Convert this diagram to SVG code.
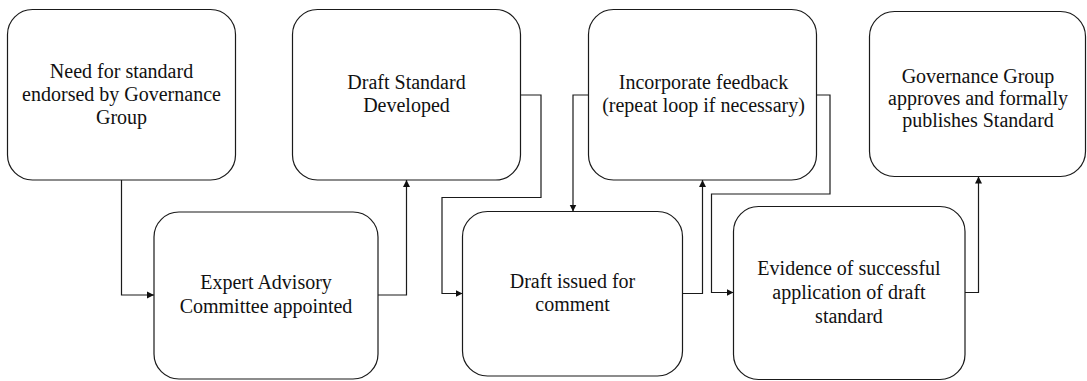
<svg xmlns="http://www.w3.org/2000/svg" width="1087" height="381" viewBox="0 0 1087 381">
  <style>
    .box { fill: #fff; stroke: #1a1a1a; stroke-width: 1.2; }
    .lbl { font-family: "Times New Roman", Tinos, "Liberation Serif", serif; font-size: 20px; fill: #111; text-anchor: middle; }
    .wire { fill: none; stroke: #1a1a1a; stroke-width: 1.2; marker-end: url(#tip); }
  </style>
  <defs>
    <marker id="tip" viewBox="0 0 10 10" refX="10" refY="5" markerWidth="7" markerHeight="9" markerUnits="userSpaceOnUse" orient="auto">
      <path d="M0,0 L10,5 L0,10 Z" fill="#111"/>
    </marker>
  </defs>
  <rect width="1087" height="381" fill="#fff"/>

  <!-- step nodes -->
  <g id="need">
    <rect class="box" x="7.5" y="9.5" width="228" height="170.5" rx="25" ry="25"/>
    <text class="lbl" x="121.5" y="77.5">Need for standard</text>
    <text class="lbl" x="121.5" y="101">endorsed by Governance</text>
    <text class="lbl" x="121.5" y="124">Group</text>
  </g>
  <g id="committee">
    <rect class="box" x="154" y="212" width="224" height="167" rx="25" ry="25"/>
    <text class="lbl" x="266" y="289">Expert Advisory</text>
    <text class="lbl" x="266" y="312.5">Committee appointed</text>
  </g>
  <g id="draft">
    <rect class="box" x="292.5" y="9.5" width="228" height="170.5" rx="25" ry="25"/>
    <text class="lbl" x="406.5" y="88.5">Draft Standard</text>
    <text class="lbl" x="406.5" y="111.5">Developed</text>
  </g>
  <g id="comment">
    <rect class="box" x="462.5" y="211.5" width="220" height="164.5" rx="25" ry="25"/>
    <text class="lbl" x="572.5" y="287.5">Draft issued for</text>
    <text class="lbl" x="572.5" y="310.5">comment</text>
  </g>
  <g id="feedback">
    <rect class="box" x="588.5" y="9.5" width="228" height="170.5" rx="25" ry="25"/>
    <text class="lbl" x="703.5" y="88.5">Incorporate feedback</text>
    <text class="lbl" x="703.5" y="111.5">(repeat loop if necessary)</text>
  </g>
  <g id="evidence">
    <rect class="box" x="733.5" y="206.5" width="231.5" height="173" rx="25" ry="25"/>
    <text class="lbl" x="849" y="275">Evidence of successful</text>
    <text class="lbl" x="849" y="299">application of draft</text>
    <text class="lbl" x="849" y="322.5">standard</text>
  </g>
  <g id="publish">
    <rect class="box" x="869.5" y="11.5" width="216" height="165" rx="25" ry="25"/>
    <text class="lbl" x="978" y="82.5">Governance Group</text>
    <text class="lbl" x="978" y="104.5">approves and formally</text>
    <text class="lbl" x="978" y="126.5">publishes Standard</text>
  </g>

  <!-- connectors -->
  <g id="connectors">
    <path class="wire" d="M121.5,180 V295 H154"/>
    <path class="wire" d="M378,295 H406.5 V180"/>
    <path class="wire" d="M520.5,95 H541 V197.5 H442 V293.5 H462.5"/>
    <path class="wire" d="M588.5,95 H573 V211.5"/>
    <path class="wire" d="M682.5,293.5 H702.5 V180"/>
    <path class="wire" d="M816.5,95 H830 V194 H711.5 V292.5 H733.5"/>
    <path class="wire" d="M965,292.5 H978.5 V176.5"/>
  </g>
</svg>
